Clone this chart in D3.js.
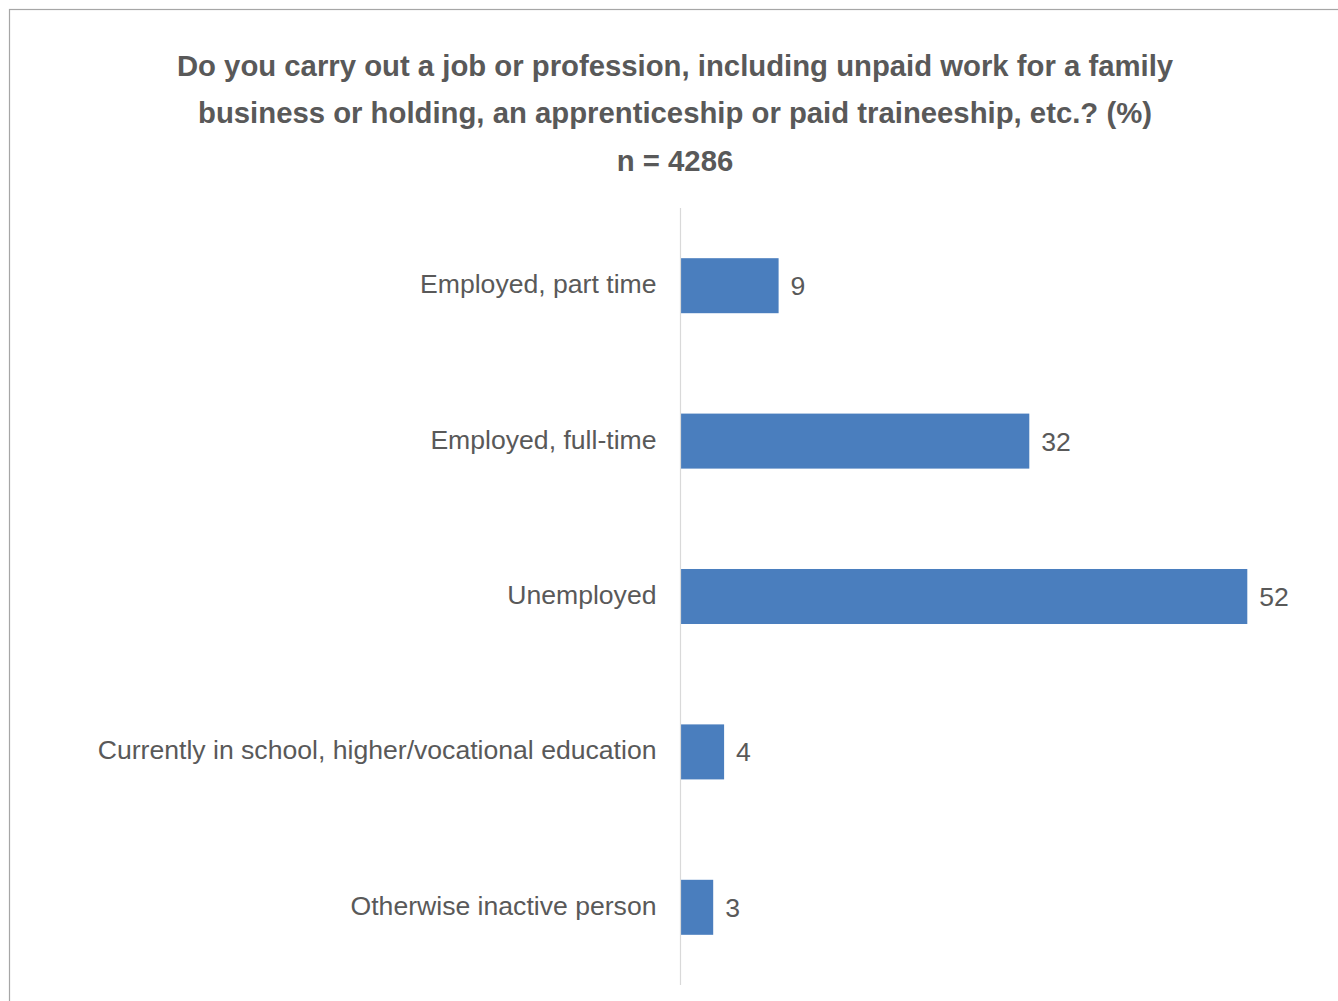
<!DOCTYPE html>
<html>
<head>
<meta charset="utf-8">
<script src="https://cdn.jsdelivr.net/npm/d3@7"></script>
<style>
  html, body { margin: 0; padding: 0; background: #fff; }
  svg { display: block; }
</style>
</head>
<body>
<svg id="chart" width="1338" height="1001"></svg>
<script>
// Survey answers, in display order (top to bottom)
const categories = [
  "Employed, part time",
  "Employed, full-time",
  "Unemployed",
  "Currently in school, higher/vocational education",
  "Otherwise inactive person"
];
const values = [9, 32, 52, 4, 3];
const titleLines = [
  "Do you carry out a job or profession, including unpaid work for a family",
  "business or holding, an apprenticeship or paid traineeship, etc.? (%)",
  "n = 4286"
];

const svg = d3.select("#chart");
const textColor = "#595959";
const barColor = "#4a7ebe";
const font = "'Liberation Sans', Arial, sans-serif";

// Outer frame of the chart area
svg.append("rect")
  .attr("x", 9.5).attr("y", 9.5)
  .attr("width", 1340).attr("height", 1000)
  .attr("fill", "#fff")
  .attr("stroke", "#a6a6a6").attr("stroke-width", 1.2);

// Title
svg.append("g").selectAll("text")
  .data(titleLines)
  .join("text")
  .attr("x", 675)
  .attr("y", (d, i) => 75.5 + i * 47.5)
  .attr("text-anchor", "middle")
  .attr("font-family", font)
  .attr("font-weight", "bold")
  .attr("font-size", 29.3)
  .attr("fill", textColor)
  .text(d => d);

const plot = { left: 680.5, top: 208, bottom: 985 };

const x = d3.scaleLinear().domain([0, 60]).range([plot.left, plot.left + 654]);
const y = d3.scaleBand().domain(categories).range([plot.top, plot.bottom]).paddingInner(0.646).paddingOuter(0.323);

// Bars
svg.append("g").selectAll("rect")
  .data(categories)
  .join("rect")
  .attr("x", x(0))
  .attr("y", d => y(d))
  .attr("width", (d, i) => x(values[i]) - x(0))
  .attr("height", y.bandwidth())
  .attr("fill", barColor);

// Category axis (line only, labels drawn beside it)
const yAxis = d3.axisLeft(y).tickSize(0).tickPadding(24);
const ag = svg.append("g").attr("transform", `translate(${plot.left},0)`).call(yAxis);
ag.select(".domain").attr("stroke", "#d9d9d9").attr("stroke-width", 1.2)
  .attr("d", `M0,${plot.top}V${plot.bottom}`);
ag.selectAll(".tick text")
  .attr("font-family", font)
  .attr("font-size", 26.6)
  .attr("fill", textColor)
  .attr("dy", "0.28em")
  .attr("y", 0);

// Value labels
svg.append("g").selectAll("text")
  .data(categories)
  .join("text")
  .attr("x", (d, i) => x(values[i]) + 12)
  .attr("y", d => y(d) + y.bandwidth() / 2)
  .attr("dy", "0.36em")
  .attr("font-family", font)
  .attr("font-size", 26.6)
  .attr("fill", textColor)
  .text((d, i) => values[i]);
</script>
</body>
</html>
